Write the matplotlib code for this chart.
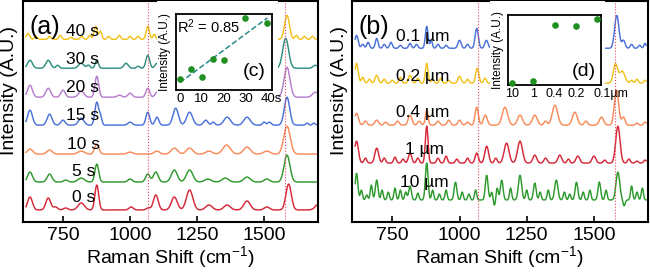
import numpy as np
import matplotlib.pyplot as plt
from matplotlib.patches import Rectangle
from matplotlib.transforms import ScaledTranslation

plt.rcParams['font.family'] = ['Liberation Sans', 'DejaVu Sans']
plt.rcParams['mathtext.fontset'] = 'custom'
plt.rcParams['mathtext.rm'] = 'Liberation Sans'
plt.rcParams['mathtext.it'] = 'Liberation Sans'

# ---- data ----
# peaks: (Raman shift, height, width); heights in the same units as the offsets
peaks_0s = [(627, 13, 9), (695, 12, 9), (722, 3, 8), (760, 2, 8), (818, 7, 12), (876, 25, 7),
            (1004, 3, 8), (1068, 2, 8), (1096, 15, 9), (1165, 13, 11), (1222, 20, 12),
            (1294, 5, 12), (1362, 5, 12), (1436, 9, 12), (1510, 3, 10), (1591, 26, 10), (1712, 10, 15)]
peaks_5s = [(627, 10, 9), (700, 8, 9), (760, 2, 8), (818, 4, 12), (876, 18, 7), (1000, 3, 8),
            (1066, 8, 8), (1096, 10, 9), (1165, 12, 11), (1222, 12, 12), (1290, 3, 12),
            (1355, 4, 12), (1436, 5, 12), (1510, 3, 10), (1585, 27, 11)]
peaks_10s = [(627, 5, 10), (700, 4, 10), (818, 3, 12), (876, 10, 8), (1000, 2, 10), (1100, 3, 10),
             (1165, 6, 12), (1222, 6, 12), (1294, 3, 12), (1360, 9, 14), (1436, 7, 13),
             (1510, 3, 12), (1585, 28, 12)]
peaks_15s = [(627, 15, 9), (700, 11, 9), (750, 5, 8), (818, 7, 10), (876, 23, 7), (890, 8, 5),
             (1000, 3, 8), (1066, 13, 7), (1100, 8, 7), (1170, 17, 10), (1222, 13, 11),
             (1282, 5, 8), (1310, 3, 6), (1362, 8, 12), (1436, 8, 12), (1500, 3, 6), (1520, 3, 6),
             (1585, 28, 10), (1660, 2, 5), (1685, 2, 5)]
peaks_20s = [(627, 12, 9), (695, 9, 9), (750, 7, 8), (818, 6, 10), (876, 21, 7), (960, 2, 8),
             (1000, 4, 8), (1066, 9, 7), (1100, 5, 7), (1170, 12, 10), (1222, 10, 11),
             (1360, 6, 12), (1436, 6, 12), (1585, 30, 11), (1690, 5, 10)]
peaks_30s = [(627, 8, 9), (695, 8, 9), (730, 3, 6), (818, 5, 10), (845, 3, 6), (876, 8, 6),
             (985, 5, 8), (1030, 2, 6), (1066, 13, 7), (1100, 5, 7), (1580, 30, 11), (1690, 3, 8)]
peaks_40s = [(620, 6, 6), (650, 3, 5), (700, 3, 5), (740, 4, 5), (780, 2, 5), (820, 3, 5),
             (850, 4, 5), (872, 13, 6), (890, 8, 5), (920, 3, 5), (960, 4, 5), (1000, 3, 5),
             (1030, 3, 5), (1066, 13, 6), (1090, 5, 5), (1585, 24, 9), (1620, 4, 5),
             (1650, 3, 5), (1680, 3, 5)]

peaks_01um = [(617, 13, 6), (640, 4, 5), (660, 6, 5), (692, 10, 5), (720, 4, 5), (745, 6, 5),
              (780, 3, 5), (816, 5, 5), (840, 4, 5), (878, 22, 5), (895, 8, 4), (920, 4, 5),
              (950, 3, 5), (1000, 8, 6), (1030, 4, 5), (1064, 20, 6), (1100, 8, 6), (1585, 33, 8),
              (1610, 8, 6), (1640, 4, 5), (1670, 3, 5), (1690, 5, 4)]
peaks_02um = [(617, 20, 6), (640, 6, 5), (665, 4, 5), (692, 8, 6), (720, 4, 5), (750, 3, 5),
              (780, 6, 5), (816, 8, 6), (845, 5, 5), (878, 20, 5), (900, 4, 5), (930, 5, 5),
              (960, 3, 5), (1000, 7, 6), (1030, 4, 5), (1066, 15, 6), (1095, 5, 5), (1580, 19, 8),
              (1605, 12, 10), (1640, 3, 5), (1660, 4, 5), (1690, 3, 5)]
peaks_04um = [(617, 12, 7), (650, 4, 6), (692, 5, 7), (725, 3, 6), (770, 4, 6), (816, 10, 7),
              (850, 4, 6), (878, 15, 5), (920, 4, 6), (960, 5, 6), (1000, 5, 6), (1030, 3, 6),
              (1064, 18, 6), (1096, 10, 7), (1169, 18, 10), (1225, 10, 9), (1280, 10, 9),
              (1320, 4, 6), (1355, 20, 10), (1429, 13, 9), (1470, 4, 6), (1528, 8, 8),
              (1584, 35, 8), (1610, 8, 6), (1660, 2, 5), (1690, 3, 5)]
peaks_1um = [(617, 22, 7), (650, 5, 5), (692, 15, 7), (720, 5, 5), (760, 6, 5), (790, 4, 5),
             (816, 10, 6), (845, 5, 5), (878, 37, 5), (920, 5, 5), (950, 7, 5), (990, 4, 5),
             (1030, 5, 5), (1064, 10, 6), (1101, 17, 7), (1135, 5, 5), (1175, 20, 9),
             (1225, 22, 9), (1280, 8, 7), (1320, 5, 6), (1373, 8, 7), (1405, 4, 5), (1440, 7, 7),
             (1500, 7, 7), (1540, 3, 5), (1589, 37, 8), (1630, 4, 5), (1660, 2, 5), (1690, 3, 5)]
peaks_10um = [(617, 27, 5), (635, 10, 4), (655, 5, 4), (672, 15, 4), (692, 20, 5), (712, 10, 4),
              (735, 8, 4), (760, 12, 4), (780, 10, 4), (800, 8, 4), (816, 14, 5), (845, 7, 4),
              (878, 37, 5), (900, 10, 4), (925, 6, 4), (950, 10, 4), (985, 18, 5), (1010, 8, 4),
              (1035, 6, 4), (1060, 10, 4), (1101, 25, 5), (1120, 8, 4), (1130, -6, 4),
              (1140, 12, 4), (1157, 20, 5), (1190, 12, 4), (1225, 25, 6), (1250, 10, 4),
              (1280, 17, 5), (1300, 8, 4), (1330, 10, 4), (1360, 20, 6), (1390, 8, 4),
              (1410, 6, 4), (1435, 18, 5), (1460, 8, 4), (1485, 10, 4), (1520, 18, 5),
              (1545, 10, 4), (1589, 28, 7), (1612, -6, 4), (1640, 14, 4), (1660, 8, 4), (1680, 12, 4)]

labels_a = ['0 s', '5 s', '10 s', '15 s', '20 s', '30 s', '40 s']
offsets_a = [12, 40, 68, 97, 125, 154, 183]
colors_a = ['#d62839', '#2e9a2e', '#f88b5a', '#4a72d8', '#b57fcf', '#2f8f80', '#f2c21b']
spectra_a = [peaks_0s, peaks_5s, peaks_10s, peaks_15s, peaks_20s, peaks_30s, peaks_40s]

labels_b = ['10 µm', '1 µm', '0.4 µm', '0.2 µm', '0.1 µm']
offsets_b = [22, 59, 97, 139, 174]
colors_b = ['#2e9a2e', '#d62839', '#f88b5a', '#f2c21b', '#4a72d8']
spectra_b = [peaks_10um, peaks_1um, peaks_04um, peaks_02um, peaks_01um]

marker_lines = [1067, 1577]

# insets
time_s = [0, 5, 10, 15, 20, 30, 40]
time_int = [0.145, 0.277, 0.176, 0.41, 0.40, 0.95, 0.88]
size_labels = ['10', '1', '0.4', '0.2', '0.1µm']
size_int = [0.024, 0.057, 0.857, 0.848, 0.943]

shift = np.arange(612, 1696, 2.0)


def spectrum(peaks, base):
    y = np.full_like(shift, base, dtype=float)
    for pos, h, w in peaks:
        y += h * np.exp(-0.5 * ((shift - pos) / w) ** 2)
    return y


fig = plt.figure(figsize=(6.5, 2.74), dpi=100)
axa = fig.add_axes([0.035, 0.19, 0.454, 0.805])
axb = fig.add_axes([0.5415, 0.19, 0.455, 0.805])

lab_pos_a = [(783, 24), (783, 51), (764, 78), (760, 107), (760, 135), (760, 163), (760, 191)]
lab_pos_b = [(778, 40), (797, 73), (764, 110), (764, 146), (764, 186)]

for ax, spectra, offs, cols, labs, lpos, box, tag in [
        (axa, spectra_a, offsets_a, colors_a, labels_a, lab_pos_a, (0.455, 0.54, 0.41), '(a)'),
        (axb, spectra_b, offsets_b, colors_b, labels_b, lab_pos_b, (0.466, 0.575, 0.39), '(b)')]:
    for pk, off, c in zip(spectra, offs, cols):
        ax.plot(shift, spectrum(pk, off), color=c, lw=1.05, zorder=2)
    for (lx, ly), t in zip(lpos, labs):
        ax.text(lx, ly, t, fontsize=12.5, ha='left', va='center', zorder=6)
    for xv in marker_lines:
        ax.axvline(xv, color='#e8455a', lw=0.8, ls=':', zorder=2.5)
    ax.add_patch(Rectangle((box[0], box[1]), box[2], 1.2 - box[1], transform=ax.transAxes,
                           facecolor='white', edgecolor='none', zorder=3))
    ax.text(0.022, 0.885, tag, transform=ax.transAxes, fontsize=18, ha='left', va='center', zorder=6)
    ax.set_xlim(600, 1700)
    ax.set_ylim(0, 221)
    ax.set_xticks([750, 1000, 1250, 1500])
    ax.set_yticks([])
    ax.tick_params(axis='x', direction='in', length=4, width=1.2, labelsize=14, pad=3.5)
    for s in ax.spines.values():
        s.set_linewidth(1.5)
    ax.set_xlabel(r'Raman Shift (cm$^{-1}$)', fontsize=14, labelpad=0)
    ax.set_ylabel('Intensity (A.U.)', fontsize=14)
    ax.yaxis.set_label_coords(-0.015, 0.595)

# inset (c)
axc = fig.add_axes([0.270, 0.672, 0.148, 0.276], zorder=5)
axc.scatter(time_s, time_int, s=14, color='#1f8f1f', zorder=3, clip_on=False)
fit = np.polyfit(time_s, time_int, 1)
fx = np.array([0, 40])
axc.plot(fx, np.polyval(fit, fx), ls='--', color='#2a8a8a', lw=1.1)
axc.set_xlim(-2, 42)
axc.set_ylim(0, 1)
axc.set_xticks([0, 10, 20, 30, 40])
axc.set_xticklabels(['0', '10', '20', '30', '40s'])
axc.text(0.015, 0.83, 'R$^2$ = 0.85', transform=axc.transAxes, fontsize=10.5, ha='left', va='center')
axc.text(0.70, 0.24, '(c)', transform=axc.transAxes, fontsize=14, ha='left', va='center')

# inset (d)
axd = fig.add_axes([0.782, 0.69, 0.143, 0.255], zorder=5)
axd.scatter(range(len(size_int)), size_int, s=14, color='#1f8f1f', zorder=3, clip_on=False)
axd.set_xlim(-0.16, 4.18)
axd.set_ylim(0, 1)
axd.set_xticks(range(len(size_labels)))
axd.set_xticklabels(size_labels)
axd.text(0.685, 0.19, '(d)', transform=axd.transAxes, fontsize=14, ha='left', va='center')

for ax in (axc, axd):
    ax.set_yticks([])
    ax.tick_params(axis='x', length=0, labelsize=9, pad=2)
    ax.set_ylabel('Intensity (A.U.)', fontsize=8.5, labelpad=3)
    for s in ax.spines.values():
        s.set_linewidth(1.3)
axc.tick_params(axis='x', labelsize=9.5)

last = axc.get_xticklabels()[-1]
last.set_horizontalalignment('left')
last.set_transform(last.get_transform() + ScaledTranslation(-0.067, 0, fig.dpi_scale_trans))
last = axd.get_xticklabels()[-1]
last.set_horizontalalignment('left')
last.set_transform(last.get_transform() + ScaledTranslation(-0.035, 0, fig.dpi_scale_trans))

fig.savefig('out.png', dpi=100, facecolor='white')
